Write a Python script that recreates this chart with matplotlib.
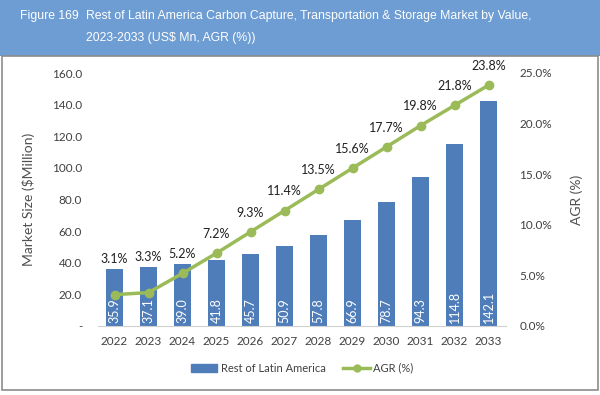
import numpy as np
import matplotlib.pyplot as plt
from matplotlib.patches import Rectangle
from matplotlib.lines import Line2D

years = ['2022', '2023', '2024', '2025', '2026', '2027', '2028', '2029', '2030', '2031', '2032', '2033']
market = [35.9, 37.1, 39.0, 41.8, 45.7, 50.9, 57.8, 66.9, 78.7, 94.3, 114.8, 142.1]
agr = [3.1, 3.3, 5.2, 7.2, 9.3, 11.4, 13.5, 15.6, 17.7, 19.8, 21.8, 23.8]

bar_color = '#4F7DBA'
line_color = '#9BBB59'
text_color = '#404040'
plt.rcParams['font.family'] = ['Lato', 'DejaVu Sans']

fig = plt.figure(figsize=(6, 3.95), dpi=100)

# header band
fig.patches.append(Rectangle((0, 1 - 56 / 395), 1, 56 / 395, transform=fig.transFigure,
                             facecolor='#6D9DD3', edgecolor='none', zorder=0))
fig.patches.append(Rectangle((0.004, 0.012), 0.992, 1 - 56 / 395 - 0.012, transform=fig.transFigure,
                             facecolor='none', edgecolor='#8C8C8C', lw=1.2, zorder=0))
hdr = dict(color='white', fontsize=8.8, family='Liberation Sans', va='center')
fig.text(20 / 600, 1 - 16 / 395, 'Figure 169', **hdr)
fig.text(86 / 600, 1 - 16 / 395,
         'Rest of Latin America Carbon Capture, Transportation & Storage Market by Value,', **hdr)
fig.text(86 / 600, 1 - 38 / 395, '2023-2033 (US$ Mn, AGR (%))', **hdr)

ax = fig.add_axes([97.5 / 600, 1 - 326 / 395, 408 / 600, 253 / 395])
x = np.arange(len(years))
ax.bar(x, market, width=0.5, color=bar_color, zorder=2, label='Rest of Latin America')
for xi, v in zip(x, market):
    ax.text(xi, 2, f'{v:.1f}', rotation=90, color='white', fontsize=9,
            ha='center', va='bottom', zorder=3)
ax.set_ylim(0, 160)
ax.set_xlim(-0.5, len(years) - 0.5)
ax.set_yticks(np.arange(0, 161, 20))
ax.set_yticklabels(['-'] + [f'{v:.1f}' for v in np.arange(20, 161, 20)])
ax.set_xticks(x)
ax.set_xticklabels(years)
ax.tick_params(length=0, colors=text_color, labelsize=8.5)
ax.tick_params(axis='y', pad=11)
ax.tick_params(axis='x', pad=7)
for s in ['top', 'right', 'left']:
    ax.spines[s].set_visible(False)
ax.spines['bottom'].set_color('#D0D0D0')
ax.set_ylabel('Market Size ($Million)', color='#505050', fontsize=10, labelpad=12)

ax2 = ax.twinx()
ax2.plot(x, agr, color=line_color, lw=2.5, marker='o', markersize=6, zorder=4)
for xi, v, m in zip(x, agr, market):
    ly = max(v + 1.9, m / 160 * 25 + 1.0)
    ax2.text(xi, ly, f'{v:.1f}%', ha='center', va='center', fontsize=9, color='#202020')
ax2.set_ylim(0, 25)
ax2.set_yticks(np.arange(0, 26, 5))
ax2.set_yticklabels([f'{v:.1f}%' for v in np.arange(0, 26, 5)])
ax2.tick_params(length=0, colors=text_color, labelsize=8.5, pad=10)
for s in ['top', 'right', 'left', 'bottom']:
    ax2.spines[s].set_visible(False)
ax2.set_ylabel('AGR (%)', color='#505050', fontsize=10, labelpad=13)

handles = [Rectangle((0, 0), 1, 1, color=bar_color),
           Line2D([0], [0], color=line_color, lw=2.5, marker='o', markersize=5)]
fig.legend(handles, ['Rest of Latin America', 'AGR (%)'], loc='center',
           bbox_to_anchor=(302 / 600, 1 - 368 / 395), ncol=2, frameon=False, fontsize=8,
           labelcolor=text_color, handlelength=2.4, handleheight=0.7, columnspacing=1.6,
           handletextpad=0.3)

fig.savefig('out.png', dpi=100)
